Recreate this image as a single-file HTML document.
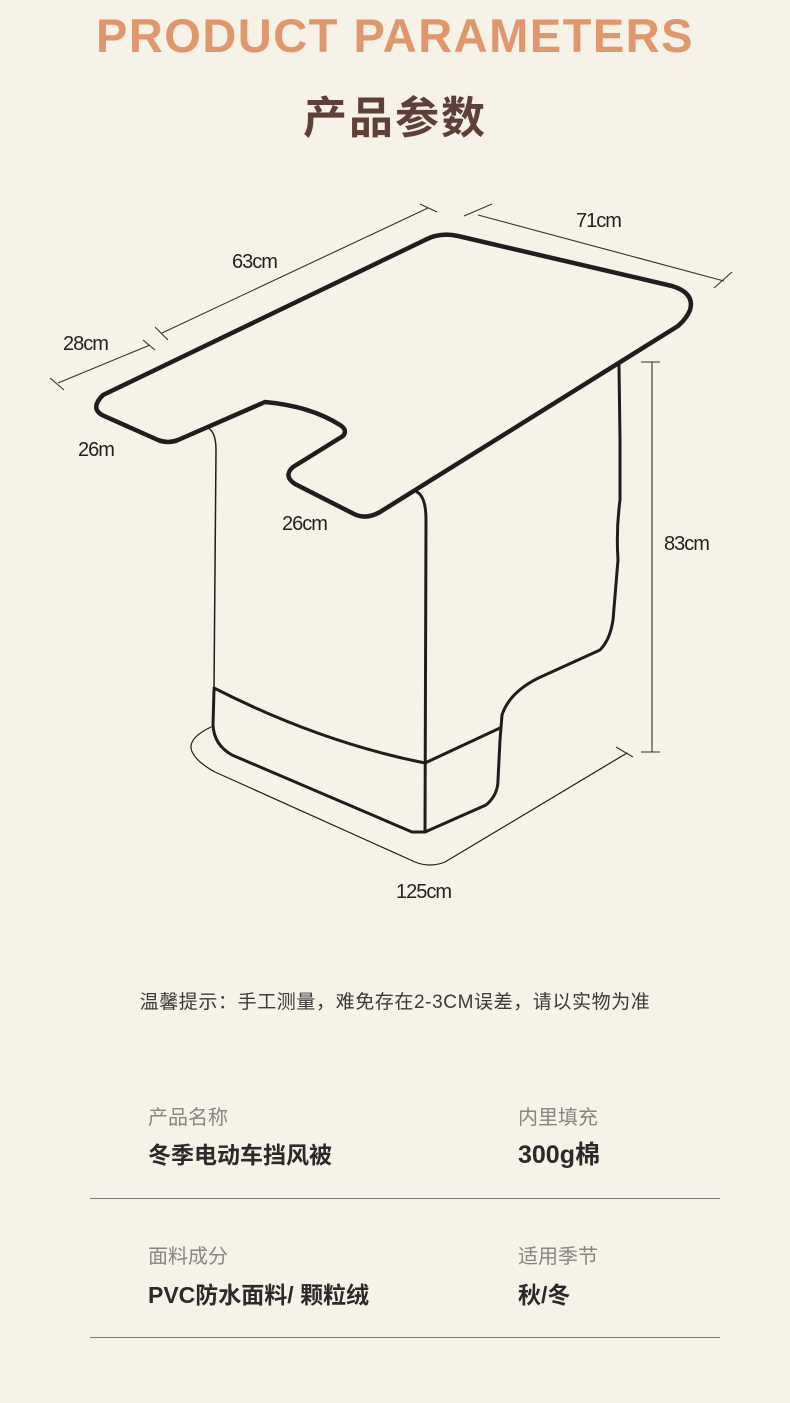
<!DOCTYPE html>
<html><head><meta charset="utf-8"><style>
body{margin:0;background:#f6f2e7;width:790px;height:1403px;position:relative;overflow:hidden;font-family:"Liberation Sans","Noto Sans CJK SC",sans-serif;}
.a{position:absolute;white-space:nowrap;}
</style></head><body>
<div class="a" style="left:0;width:790px;top:8px;text-align:center;font-size:47px;font-weight:bold;color:#e0976b;letter-spacing:1.5px;">PRODUCT PARAMETERS</div>
<div class="a" style="left:0;width:790px;top:82px;text-align:center;font-size:44px;font-weight:bold;color:#5f4037;letter-spacing:2px;">产品参数</div>
<svg class="a" style="left:0;top:0" width="790" height="950" viewBox="0 0 790 950">
<g fill="none" stroke="#1f1d1d" stroke-linecap="round" stroke-linejoin="round">
<path stroke-width="4.5" d="M103,395 L425,240 Q440,232 458,236 L672,286 Q695,293 690,310 Q687,318 678,326 L380,512 Q366,520 354,514 L295,484 Q283,476 293,467 L343,436 Q348,430 340,425 Q310,406 265,402 L178,440 Q168,444 158,440 L102,415 Q90,408 103,395 Z"/>
<path stroke-width="1.5" d="M208,428 Q216,432 216,450 L214,690"/>
<path stroke-width="3" d="M214,690 L213,725 Q214,745 232,755 L412,832 L425,832 L486,805 Q498,795 498,780 L500,740 L502,715 Q510,690 545,675 L600,650 Q610,640 613,620 L618,560 Q616,530 620,500 L620,440 L619,365"/>
<path stroke-width="3" d="M214,688 Q320,742 425,763 L500,728"/>
<path stroke-width="3" d="M417,492 Q426,497 426,520 L425,832"/>
<path stroke-width="1.2" d="M211,727 Q190,737 191,748 Q193,760 215,772 L415,862 Q430,868 445,862 L627,753"/>
</g>
<g stroke="#333" stroke-width="1.1" fill="none">
<path d="M162,333 L428,208 M155,327 L168,340 M420,204 L437,212"/>
<path d="M58,383 L150,345 M50,378 L64,390 M143,340 L155,350"/>
<path d="M478,215 L724,281 M464,216 L492,204 M714,288 L732,272"/>
<path d="M652,362 L652,752 M641,362 L660,362 M641,752 L660,752"/>
<path d="M616,747 L633,757"/>
</g>
<g font-family="Liberation Sans, sans-serif" font-size="20" fill="#222" letter-spacing="-1">
<text x="232" y="268">63cm</text>
<text x="576" y="227">71cm</text>
<text x="63" y="350">28cm</text>
<text x="78" y="456">26m</text>
<text x="282" y="530">26cm</text>
<text x="664" y="550">83cm</text>
<text x="396" y="898">125cm</text>
</g>
</svg>
<div class="a" style="left:0;width:790px;top:987px;text-align:center;font-size:19px;color:#3a3a3a;letter-spacing:0.6px;">温馨提示：手工测量，难免存在2-3CM误差，请以实物为准</div>
<div class="a" style="left:148px;top:1101px;font-size:20px;color:#8a8580;">产品名称</div>
<div class="a" style="left:148px;top:1136px;font-size:23px;font-weight:bold;color:#2a2a2a;">冬季电动车挡风被</div>
<div class="a" style="left:518px;top:1101px;font-size:20px;color:#8a8580;">内里填充</div>
<div class="a" style="left:518px;top:1135px;font-size:25px;font-weight:bold;color:#2a2a2a;">300g棉</div>
<div class="a" style="left:90px;top:1198px;width:630px;height:1px;background:#7a7a7a;"></div>
<div class="a" style="left:148px;top:1240px;font-size:20px;color:#8a8580;">面料成分</div>
<div class="a" style="left:148px;top:1276px;font-size:23px;font-weight:bold;color:#2a2a2a;">PVC防水面料/ 颗粒绒</div>
<div class="a" style="left:518px;top:1240px;font-size:20px;color:#8a8580;">适用季节</div>
<div class="a" style="left:518px;top:1276px;font-size:23px;font-weight:bold;color:#2a2a2a;">秋/冬</div>
<div class="a" style="left:90px;top:1337px;width:630px;height:1px;background:#7a7a7a;"></div>
</body></html>
